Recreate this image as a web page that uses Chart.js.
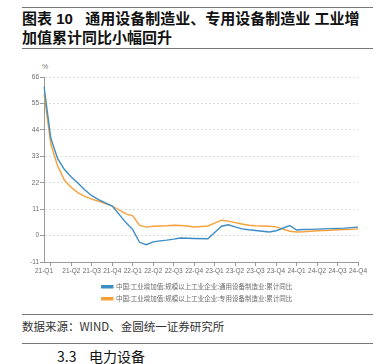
<!DOCTYPE html>
<html lang="zh-CN">
<head>
<meta charset="utf-8">
<title>通用设备制造业、专用设备制造业 工业增加值累计同比</title>
<script src="https://cdn.jsdelivr.net/npm/chart.js@4.4.1/dist/chart.umd.min.js"></script>
<style>
    html, body { margin: 0; padding: 0; background: #fff; }
    body { width: 381px; height: 364px; position: relative; overflow: hidden;
           font-family: "Liberation Sans", "Noto Sans CJK SC", sans-serif; }
    .rule { position: absolute; left: 22px; width: 351px; height: 1px; background: #777; }
    .title { position: absolute; left: 22px; top: 9px; font-size: 15px; font-weight: bold;
             line-height: 19px; color: #111; }
    .unit { position: absolute; left: 42px; top: 63px; font-size: 7px; color: #777; }
    .chart-box { position: absolute; left: 0; top: 55px; width: 381px; height: 257px; }
    .source { position: absolute; left: 22px; top: 318px; font-size: 11.5px; color: #333;
              font-family: "Noto Sans CJK SC", sans-serif; }
    .section { position: absolute; left: 57px; top: 346px; font-size: 14px; color: #111;
               font-family: "Noto Sans CJK SC", sans-serif; }
</style>
</head>
<body>
<div class="rule" style="top:7px"></div>
<div class="title">图表 10&nbsp;&nbsp;&nbsp;通用设备制造业、专用设备制造业 工业增<br>加值累计同比小幅回升</div>
<div class="rule" style="top:48px"></div>
<div class="unit">%</div>
<div class="chart-box"><canvas id="chart"></canvas></div>
<div class="rule" style="top:314px"></div>
<div class="source">数据来源：WIND、金圆统一证券研究所</div>
<div class="rule" style="top:343px"></div>
<div class="section">3.3&nbsp;&nbsp;&nbsp;&nbsp;电力设备</div>

<script>
// Données mensuelles 2021-02 .. 2024-12 (janvier absent : null)
const months = [];
for (let y = 2021; y <= 2024; y++) {
    for (let m = (y === 2021 ? 2 : 1); m <= 12; m++) {
        months.push(y + '-' + String(m).padStart(2, '0'));
    }
}

const quarterLabels = ['21-Q1', '21-Q2', '21-Q3', '21-Q4',
    '22-Q1', '22-Q2', '22-Q3', '22-Q4',
    '23-Q1', '23-Q2', '23-Q3', '23-Q4',
    '24-Q1', '24-Q2', '24-Q3', '24-Q4'];

const seriesNames = [
    '中国:工业增加值:规模以上工业企业:通用设备制造业:累计同比',
    '中国:工业增加值:规模以上工业企业:专用设备制造业:累计同比'
];

// 通用设备制造业
const generalEquip = [
    62, 40.5, 32, 27.5, 24.4, 21.8, 19, 16.6, 15, 13.6, 12.3,
    null,
    5.4, 2.5, -2.8, -3.8, -2.6, -2.2, -1.9, -1.5, -1.0, -1.1, -1.2,
    null,
    -1.3, 1.3, 3.9, 4.5, 3.6, 2.8, 2.4, 2.1, 1.8, 1.5, 2.0,
    null,
    4.2, 2.3, 2.5, 2.6, 2.7, 2.8, 2.9, 3.0, 3.1, 3.3, 3.5
];

// 专用设备制造业
const specialEquip = [
    59, 38, 29, 23, 20, 17.8, 16.3, 15.2, 14.3, 13.3, 12.3,
    null,
    9.0, 8.2, 4.2, 3.5, 3.9, 4.0, 4.1, 4.3, 4.2, 4.0, 3.6,
    null,
    4.0, 5.2, 6.4, 6.0, 5.4, 4.8, 4.3, 4.1, 4.0, 3.9, 3.6,
    null,
    1.8, 1.5, 1.6, 1.8, 2.0, 2.1, 2.2, 2.4, 2.5, 2.6, 2.8
];

const yTicks = [-11, 0, 11, 22, 33, 44, 55, 66];

const BLUE = '#3c8dc4';
const ORANGE = '#f6a03a';
const AXIS = '#9a9a9a';
const TEXT = '#6a6a6a';

// Marque de graduation uniquement en fin de trimestre (mars, juin, sept., déc.)
const isQuarterTick = (i) => i >= 1 && (i - 1) % 3 === 0;

const tickFont = { family: '"Liberation Sans", Arial, sans-serif', size: 6.5 };

// Décale la légende vers la droite (centrée sous la zone de tracé comme l'original)
const legendShift = {
    id: 'legendShift',
    afterLayout(chart) {
        if (chart.legend) {
            chart.legend.left += 18;
            chart.legend.right += 18;
        }
    }
};

new Chart(document.getElementById('chart'), {
    type: 'line',
    data: {
        labels: months,
        datasets: [
            {
                label: seriesNames[0],
                data: generalEquip,
                borderColor: BLUE,
                backgroundColor: BLUE,
                borderWidth: 1.4,
                pointRadius: 0,
                tension: 0,
                spanGaps: true
            },
            {
                label: seriesNames[1],
                data: specialEquip,
                borderColor: ORANGE,
                backgroundColor: ORANGE,
                borderWidth: 1.4,
                pointRadius: 0,
                tension: 0,
                spanGaps: true
            }
        ]
    },
    options: {
        responsive: true,
        maintainAspectRatio: false,
        animation: false,
        layout: { padding: { left: 0, right: 23, top: 22, bottom: 0 } },
        plugins: {
            legend: {
                position: 'bottom',
                labels: {
                    boxWidth: 11,
                    boxHeight: 2,
                    padding: 5.5,
                    color: TEXT,
                    font: { family: '"Noto Sans CJK SC", sans-serif', size: 6.5 }
                }
            },
            tooltip: { enabled: false }
        },
        scales: {
            x: {
                type: 'category',
                offset: false,
                afterFit: (scale) => { scale.height = 16; },
                grid: {
                    drawOnChartArea: false,
                    tickLength: 4,
                    tickColor: (ctx) => isQuarterTick(ctx.index) ? AXIS : 'rgba(0,0,0,0)'
                },
                border: { color: AXIS, width: 1 },
                ticks: {
                    autoSkip: false,
                    maxRotation: 0,
                    padding: 1,
                    color: TEXT,
                    font: tickFont,
                    callback: (value, i) => {
                        if (i === 0) return quarterLabels[0];
                        if (i >= 4 && isQuarterTick(i)) return quarterLabels[(i - 1) / 3];
                        return '';
                    }
                }
            },
            y: {
                min: -11,
                max: 66,
                afterFit: (scale) => { scale.width = 44; },
                afterBuildTicks: (scale) => { scale.ticks = yTicks.map(v => ({ value: v })); },
                grid: {
                    color: '#dedede',
                    lineWidth: 1,
                    tickLength: 4,
                    tickColor: AXIS
                },
                border: { color: AXIS, width: 1, dash: [2, 2] },
                ticks: {
                    padding: 1,
                    color: TEXT,
                    font: tickFont
                }
            }
        }
    },
    plugins: [legendShift]
});
</script>
</body>
</html>
